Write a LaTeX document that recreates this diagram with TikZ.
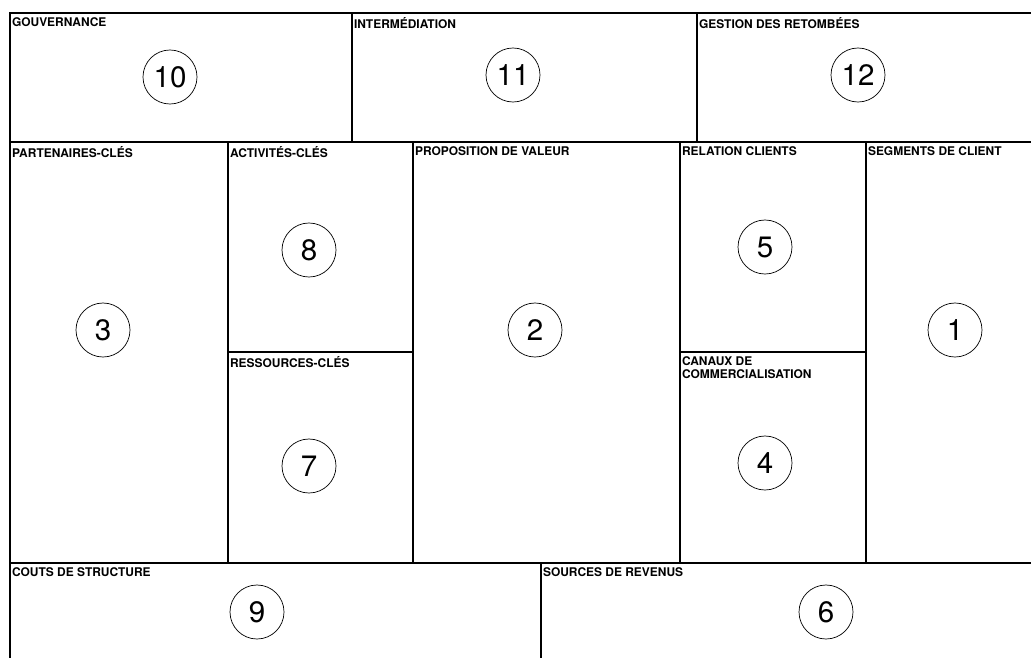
\documentclass[tikz,border=0pt]{standalone}
\usepackage{fontspec}
\setmainfont{TeX Gyre Heros}
\usetikzlibrary{fit,positioning}

\begin{document}
\begin{tikzpicture}[x=0.025cm, y=-0.025cm,
    cell/.style={draw, line width=1.1pt, inner sep=0pt},
    title/.style={anchor=north west, align=left, inner xsep=1.8pt, inner ysep=3.6pt,
      font=\bfseries\fontsize{8.5}{9.5}\selectfont},
    num/.style={circle, draw, line width=0.5pt, minimum size=1.35cm, inner sep=0pt,
      font=\fontsize{21}{21}\selectfont}]
      \clip (0,0) rectangle (1031,657);
      % top row
      \node[cell, fit={(10,13) (352,142)}] (gouv) {};
      \node[cell, fit={(352,13) (697,142)}] (inter) {};
      \node[cell, fit={(697,13) (1045,142)}] (retomb) {};
      % middle row
      \node[cell, fit={(10,142) (228,563)}] (part) {};
      \node[cell, fit={(228,142) (413,352)}] (activ) {};
      \node[cell, fit={(228,352) (413,563)}] (ress) {};
      \node[cell, fit={(413,142) (680,563)}] (prop) {};
      \node[cell, fit={(680,142) (866,352)}] (relat) {};
      \node[cell, fit={(680,352) (866,563)}] (canaux) {};
      \node[cell, fit={(866,142) (1045,563)}] (segm) {};
      % bottom row
      \node[cell, fit={(10,563) (541,670)}] (couts) {};
      \node[cell, fit={(541,563) (1045,670)}] (revenus) {};
      % titles
      \node[title] at (gouv.north west) {GOUVERNANCE};
      \node[title] at (inter.north west) {INTERMÉDIATION};
      \node[title] at (retomb.north west) {GESTION DES RETOMBÉES};
      \node[title] at (part.north west) {PARTENAIRES-CLÉS};
      \node[title] at (activ.north west) {ACTIVITÉS-CLÉS};
      \node[title] at (ress.north west) {RESSOURCES-CLÉS};
      \node[title] at (prop.north west) {PROPOSITION DE VALEUR};
      \node[title] at (relat.north west) {RELATION CLIENTS};
      \node[title] at (canaux.north west) {CANAUX DE\\COMMERCIALISATION};
      \node[title] at (segm.north west) {SEGMENTS DE CLIENT};
      \node[title] at (couts.north west) {COUTS DE STRUCTURE};
      \node[title] at (revenus.north west) {SOURCES DE REVENUS};
      % numbers
      \node[num] (n10) at (170,77) {10};
      \node[num] (n11) at (513,75) {11};
      \node[num] (n12) at (858,75) {12};
      \node[num] (n3) at (103,330) {3};
      \node[num] (n8) at (309,250) {8};
      \node[num] (n7) at (309,466) {7};
      \node[num] (n2) at (535,330) {2};
      \node[num] (n5) at (765,247) {5};
      \node[num] (n4) at (765,463) {4};
      \node[num] (n1) at (955,330) {1};
      \node[num] (n9) at (257,612) {9};
      \node[num] (n6) at (826,612) {6};
    \end{tikzpicture}
\end{document}
